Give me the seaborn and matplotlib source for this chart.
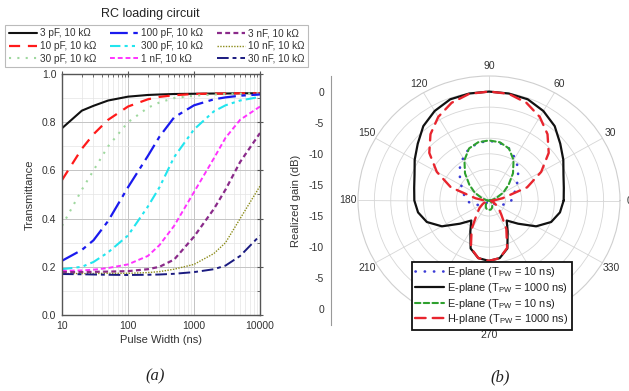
import numpy as np
import pandas as pd
import matplotlib
matplotlib.use("Agg")
import matplotlib.pyplot as plt
import seaborn as sns
from matplotlib.ticker import LogLocator, MultipleLocator, FixedLocator, NullFormatter, FixedFormatter

# ---------------- data: panel (a) ----------------
pulse_width = [10, 20, 30, 50, 100, 200, 300, 500, 1000, 2000, 3000, 5000, 10000]
t_3pF   = [0.775, 0.848, 0.868, 0.890, 0.906, 0.913, 0.915, 0.917, 0.918, 0.919, 0.919, 0.920, 0.920]
t_10pF  = [0.560, 0.690, 0.750, 0.810, 0.865, 0.895, 0.905, 0.912, 0.917, 0.919, 0.919, 0.920, 0.920]
t_30pF  = [0.370, 0.520, 0.600, 0.700, 0.800, 0.860, 0.882, 0.900, 0.910, 0.915, 0.917, 0.918, 0.920]
t_100pF = [0.225, 0.270, 0.310, 0.390, 0.530, 0.660, 0.740, 0.820, 0.870, 0.895, 0.903, 0.910, 0.915]
t_300pF = [0.190, 0.200, 0.220, 0.260, 0.330, 0.450, 0.530, 0.655, 0.770, 0.845, 0.870, 0.890, 0.905]
t_1nF   = [0.183, 0.185, 0.188, 0.195, 0.210, 0.245, 0.290, 0.370, 0.510, 0.650, 0.735, 0.810, 0.865]
t_3nF   = [0.178, 0.178, 0.179, 0.180, 0.182, 0.190, 0.200, 0.230, 0.325, 0.440, 0.520, 0.635, 0.755]
t_10nF  = [0.172, 0.172, 0.172, 0.173, 0.173, 0.176, 0.180, 0.190, 0.210, 0.255, 0.300, 0.400, 0.535]
t_30nF  = [0.170, 0.169, 0.168, 0.167, 0.166, 0.167, 0.168, 0.171, 0.178, 0.190, 0.205, 0.245, 0.330]
rc_labels = ["3 pF, 10 kΩ", "10 pF, 10 kΩ", "30 pF, 10 kΩ",
             "100 pF, 10 kΩ", "300 pF, 10 kΩ", "1 nF, 10 kΩ",
             "3 nF, 10 kΩ", "10 nF, 10 kΩ", "30 nF, 10 kΩ"]
x_ticks = [10, 100, 1000, 10000]
x_tick_labels = ["10", "100", "1000", "10000"]

# ---------------- data: panel (b) ----------------
angles_deg = list(range(0, 361, 10))
e_plane_10ns_dot = [-14.1, -13.7, -13.3, -12.6, -11.7, -10.6, -9.6, -8.6, -8.1, -7.9,
                    -8.1, -8.6, -9.6, -10.6, -11.7, -12.6, -13.3, -13.7, -14.1,
                    -14.7, -15.4, -16.2, -16.8, -17.1, -17.3, -17.4, -17.4, -17.4,
                    -17.4, -17.4, -17.3, -17.1, -16.8, -16.2, -15.4, -14.7, -14.1]
e_plane_1000ns = [-6.1, -5.9, -5.4, -4.4, -3.3, -1.9, -0.9, -0.2, -0.05, 0.0,
                  -0.05, -0.2, -0.9, -1.9, -3.3, -4.4, -5.4, -5.9, -6.1,
                  -6.5, -7.4, -9.2, -11.7, -13.3, -11.8, -9.3, -8.1, -7.8,
                  -8.1, -9.3, -11.8, -13.3, -11.7, -9.2, -7.4, -6.5, -6.1]
e_plane_10ns_dash = [-17.4, -17.0, -16.3, -15.0, -13.6, -11.8, -10.0, -8.6, -8.0, -7.85,
                     -8.0, -8.6, -10.0, -11.8, -13.6, -15.0, -16.3, -17.0, -17.4,
                     -17.4, -17.3, -17.2, -17.0, -16.8, -16.5, -16.2, -16.0, -16.0,
                     -16.0, -16.2, -16.5, -16.8, -17.0, -17.2, -17.3, -17.4, -17.4]
h_plane_1000ns = [-16.8, -15.4, -11.3, -8.3, -5.6, -3.6, -2.0, -0.8, -0.1, 0.0,
                  -0.1, -0.8, -2.0, -3.6, -5.6, -8.3, -11.3, -15.4, -16.8,
                  -17.2, -17.0, -16.4, -15.6, -14.6, -12.2, -9.4, -8.1, -7.8,
                  -8.1, -9.4, -12.2, -14.6, -15.6, -16.4, -17.0, -17.2, -16.8]
polar_labels = ["E-plane (T$_{PW}$ = 10 ns)", "E-plane (T$_{PW}$ = 1000 ns)",
                "E-plane (T$_{PW}$ = 10 ns)", "H-plane (T$_{PW}$ = 1000 ns)"]
theta_ticks = list(range(0, 360, 30))
theta_tick_labels = ["0", "30", "60", "90", "120", "150", "180", "210", "", "270", "", "330"]
gain_ticks = [0, -5, -10, -15]

# ---------------- style ----------------
sns.set_theme(style="white")
plt.rcParams['font.family'] = ['Liberation Sans', 'DejaVu Sans']
plt.rcParams['mathtext.default'] = 'regular'

W, H = 629, 391
fig = plt.figure(figsize=(W / 100, H / 100), dpi=100)

# ---------------- panel (a) ----------------
ax = fig.add_axes([62 / W, 1 - 315 / H, 198 / W, 241 / H])
rc_series = [t_3pF, t_10pF, t_30pF, t_100pF, t_300pF, t_1nF, t_3nF, t_10nF, t_30nF]
rc_colors = ["#111111", "#ff1a1a", "#9fd89f", "#1a1aee", "#22e5ee",
             "#ff33ff", "#8a2a8a", "#8c8c1a", "#1a1a80"]
rc_styles = ["-", (0, (5, 3.5)), (0, (1, 3)), (0, (8, 2.5, 2, 2.5)),
             (0, (5, 2, 1.5, 2, 1.5, 2)), (0, (2.5, 1.5)), (0, (2.2, 1.5)),
             (0, (1, 1)), (0, (6, 2, 2, 2))]
rc_widths = [1.5, 1.6, 1.5, 1.6, 1.5, 1.4, 1.6, 1.0, 1.4]
rc_handles = []
for vals, col, ls, lw, lab in zip(rc_series, rc_colors, rc_styles, rc_widths, rc_labels):
    sns.lineplot(x=pulse_width, y=vals, ax=ax, color=col, linewidth=lw,
                 estimator=None, legend=False)
    ln = ax.lines[-1]
    ln.set_linestyle(ls)
    ln.set_label(lab)
    rc_handles.append(ln)

ax.set_xscale("log")
ax.set_xlim(10, 10000)
ax.set_ylim(0, 1.0)
ax.xaxis.set_major_locator(FixedLocator(x_ticks))
ax.xaxis.set_major_formatter(FixedFormatter(x_tick_labels))
ax.xaxis.set_minor_locator(LogLocator(base=10, subs=np.arange(2, 10)))
ax.xaxis.set_minor_formatter(NullFormatter())
ax.yaxis.set_major_locator(MultipleLocator(0.2))
ax.yaxis.set_minor_locator(MultipleLocator(0.1))
ax.yaxis.set_major_formatter(matplotlib.ticker.FormatStrFormatter("%.1f"))
ax.grid(True, which="major", color="#c4c4c4", lw=0.7)
ax.grid(True, which="minor", color="#e4e4e4", lw=0.5)
ax.set_axisbelow(True)
for s in ax.spines.values():
    s.set_color("#555555")
    s.set_linewidth(1.0)
ax.tick_params(which="major", direction="inout", length=4, width=0.8, color="#555555",
               top=True, right=True, labelsize=7.5, labelcolor="#333333", pad=2)
ax.tick_params(which="minor", direction="in", length=2, width=0.6, color="#555555",
               top=True, right=True)
ax.set_xlabel("Pulse Width (ns)", fontsize=8, color="#333333", labelpad=3)
ax.set_ylabel("Transmittance", fontsize=8, color="#333333", labelpad=5)

fig.text(150 / W, 1 - 14 / H, "RC loading circuit", ha="center", va="center",
         fontsize=9, color="#222222")
leg1 = fig.legend(handles=rc_handles, labels=rc_labels, ncol=3, loc="upper left",
                  bbox_to_anchor=(5 / W, 1 - 25 / H), fontsize=7.2, frameon=True,
                  fancybox=False, edgecolor="#aaaaaa", handlelength=2.8,
                  handletextpad=0.3, columnspacing=1.4, labelspacing=0.25,
                  borderpad=0.35, borderaxespad=0)
leg1.get_frame().set_linewidth(0.8)
for t in leg1.get_texts():
    t.set_color("#333333")

# ---------------- panel (b) ----------------
PBOX = [358 / W, 1 - 325 / H, 262 / W, 249 / H]
pax = fig.add_axes(PBOX, projection="polar")
theta = np.deg2rad(angles_deg)
p_series = [e_plane_10ns_dot, e_plane_1000ns, e_plane_10ns_dash, h_plane_1000ns]
p_colors = ["#3b3bd6", "#111111", "#2ea02e", "#e8252e"]
p_styles = [(0, (0.1, 3.4)), "-", (0, (2.6, 1.6)), (0, (4.5, 3))]
p_widths = [1.9, 1.6, 1.5, 1.7]
p_handles = []
for vals, col, ls, lw, lab in zip(p_series, p_colors, p_styles, p_widths, polar_labels):
    sns.lineplot(x=theta, y=vals, ax=pax, color=col, linewidth=lw, sort=False,
                 estimator=None, legend=False)
    ln = pax.lines[-1]
    ln.set_linestyle(ls)
    ln.set_dash_capstyle("round")
    ln.set_label(lab)
    p_handles.append(ln)
pax.set_xlabel("")
pax.set_ylabel("")
pax.set_ylim(-17.5, 2.5)
pax.set_yticks([-15, -12.5, -10, -7.5, -5, -2.5, 0])
pax.set_yticklabels([])
pax.set_thetagrids(theta_ticks, labels=theta_tick_labels)
pax.tick_params(axis="x", labelsize=7.5, labelcolor="#333333", pad=-6)
pax.grid(True, color="#d6d6d6", lw=0.6)
pax.spines["polar"].set_color("#cfcfcf")
pax.spines["polar"].set_linewidth(0.8)
pax.set_aspect("auto")
pax.set_position(PBOX)

# radial gain axis on the left
rax = fig.add_axes([331 / W, 1 - 325 / H, 0.0001, 249 / H])
rax.set_ylim(-20, 20)
rax.set_xticks([])
for k in ["top", "right", "bottom"]:
    rax.spines[k].set_visible(False)
rax.spines["left"].set_color("#999999")
rax.spines["left"].set_linewidth(0.8)
rpos = [g + 17.5 for g in gain_ticks] + [-(g + 17.5) for g in gain_ticks]
rlab = [str(g) for g in gain_ticks] + [str(g) for g in gain_ticks]
rax.yaxis.set_major_locator(FixedLocator(rpos))
rax.yaxis.set_major_formatter(FixedFormatter(rlab))
rax.yaxis.set_minor_locator(FixedLocator([20, 15, 10, 5, 0, -5, -10, -15, -20]))
rax.tick_params(axis="y", which="major", direction="out", length=3, width=0.7,
                color="#999999", labelsize=7.5, labelcolor="#333333", pad=2)
rax.tick_params(axis="y", which="minor", direction="out", length=2, width=0.6,
                color="#999999")
rax.set_facecolor("none")
rax.set_ylabel("Realized gain (dB)", fontsize=8, color="#333333", labelpad=6)

leg2 = fig.legend(handles=p_handles, labels=polar_labels, loc="upper left",
                  bbox_to_anchor=(412 / W, 1 - 262 / H), fontsize=7.9, frameon=True,
                  fancybox=False, edgecolor="#111111", facecolor="white", framealpha=1,
                  handlelength=2.6, handletextpad=0.3, labelspacing=0.15,
                  borderpad=0.3, borderaxespad=0)
leg2.get_frame().set_linewidth(1.3)
for t in leg2.get_texts():
    t.set_color("#222222")

fig.text(155 / W, 1 - 376 / H, "(a)", ha="center", va="center", fontsize=12,
         family="Liberation Serif", style="italic", color="#222222")
fig.text(500 / W, 1 - 377 / H, "(b)", ha="center", va="center", fontsize=12,
         family="Liberation Serif", style="italic", color="#222222")

fig.savefig("out.png", dpi=100, facecolor="white")
